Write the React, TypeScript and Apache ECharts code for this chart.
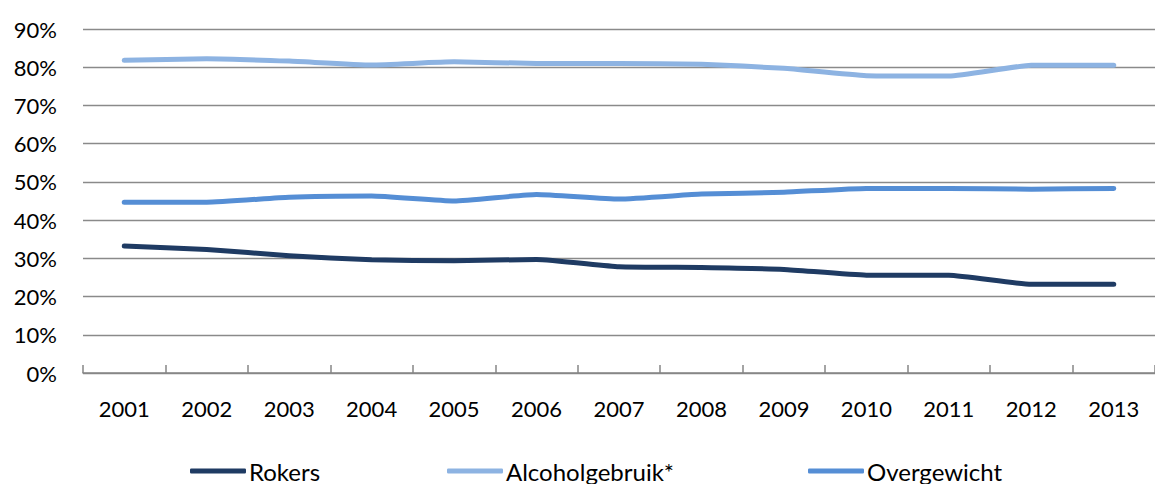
import React, { useEffect, useRef } from "react";
import * as echarts from "echarts";

const years = ["2001", "2002", "2003", "2004", "2005", "2006", "2007", "2008", "2009", "2010", "2011", "2012", "2013"];
const seriesNames = ["Rokers", "Alcoholgebruik*", "Overgewicht"];
const rokers = [33.2, 32.3, 30.7, 29.6, 29.4, 29.7, 27.8, 27.6, 27.1, 25.6, 25.6, 23.2, 23.2];
const alcoholgebruik = [81.8, 82.2, 81.6, 80.6, 81.4, 81.0, 81.0, 80.8, 79.7, 77.8, 77.7, 80.5, 80.5];
const overgewicht = [44.7, 44.7, 46.0, 46.3, 45.0, 46.7, 45.5, 46.8, 47.3, 48.3, 48.3, 48.1, 48.3];
const yTicks = { min: 0, max: 90, interval: 10 };

const FONT = "Lato, 'Open Sans', sans-serif";
const legendLefts = [190, 447, 808];

export default function App() {
  const ref = useRef<HTMLDivElement>(null);
  useEffect(() => {
    if (!ref.current) return;
    const chart = echarts.init(ref.current, undefined, { renderer: "svg" });
    const mk = (name: string, data: number[], color: string) => ({
      name,
      type: "line",
      data,
      symbol: "none",
      smooth: 0.15,
      lineStyle: { color, width: 5, cap: "round", join: "round" },
      itemStyle: { color },
    });
    chart.setOption({
      animation: false,
      grid: { left: 83, top: 29, width: 1083.33, height: 344, containLabel: false },
      legend: seriesNames.map((n, i) => ({
        left: legendLefts[i],
        top: 459,
        padding: 0,
        icon: "roundRect",
        itemWidth: 56,
        itemHeight: 5,
        selectedMode: false,
        textStyle: { fontFamily: FONT, fontSize: 24, lineHeight: 24, color: "#000", padding: [0, 0, 0, -2] },
        data: [n],
      })),
      xAxis: {
        type: "category",
        data: years,
        boundaryGap: true,
        axisLine: { show: true, lineStyle: { color: "#868686", width: 1.5 } },
        axisTick: { show: true, inside: true, length: 8, lineStyle: { color: "#868686", width: 1.5 } },
        axisLabel: { fontFamily: FONT, fontSize: 22, color: "#000", margin: 24 },
        splitLine: { show: false },
      },
      yAxis: {
        type: "value",
        min: yTicks.min,
        max: yTicks.max,
        interval: yTicks.interval,
        axisLine: { show: false },
        axisTick: { show: false },
        axisLabel: { fontFamily: FONT, fontSize: 22, color: "#000", margin: 26, formatter: "{value}%" },
        splitLine: { lineStyle: { color: "#8a8a8a", width: 1.3 } },
      },
      series: [
        mk(seriesNames[0], rokers, "#1f3b63"),
        mk(seriesNames[1], alcoholgebruik, "#8db3e2"),
        mk(seriesNames[2], overgewicht, "#558ed5"),
      ],
    });
    return () => chart.dispose();
  }, []);
  return <div ref={ref} style={{ width: 1155, height: 484, position: "absolute", left: 0, top: 0 }} />;
}
